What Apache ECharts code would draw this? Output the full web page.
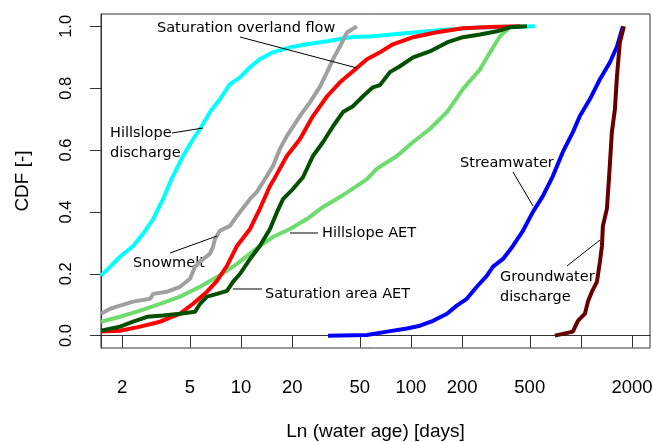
<!DOCTYPE html>
<html>
<head>
<meta charset="utf-8">
<script src="https://cdn.jsdelivr.net/npm/echarts@6/dist/echarts.min.js"></script>
<style>
  html, body { margin: 0; padding: 0; background: #fff; }
  #main { width: 653px; height: 442px; }
</style>
</head>
<body>
<div id="main"></div>
<script>
  // water age [days] / CDF pairs
  const ageHillslopeQ = [1.50, 1.70, 1.94, 2.32, 2.65, 3.04, 3.48, 3.93, 4.56, 5.22, 5.98, 6.57, 7.52, 8.61, 9.87, 11.3, 12.9, 15.4, 19.4, 24.4, 32.1, 43.8, 59.7, 103, 163, 255, 348, 536];
  const cdfHillslopeQ = [0.194, 0.223, 0.255, 0.290, 0.329, 0.377, 0.442, 0.510, 0.581, 0.635, 0.684, 0.723, 0.765, 0.813, 0.835, 0.868, 0.894, 0.916, 0.932, 0.942, 0.952, 0.965, 0.968, 0.980, 0.990, 0.996, 0.998, 1.0];

  const ageOverland = [1.50, 1.94, 2.55, 3.34, 4.38, 5.22, 6.31, 7.22, 8.27, 9.47, 11.3, 12.9, 14.8, 15.8, 18.6, 22.2, 26.5, 32.1, 38.2, 45.6, 55.1, 65.7, 78.3, 103, 142, 202, 292, 438];
  const cdfOverland = [0.013, 0.016, 0.029, 0.045, 0.071, 0.103, 0.142, 0.177, 0.226, 0.290, 0.345, 0.410, 0.484, 0.510, 0.581, 0.635, 0.710, 0.774, 0.819, 0.855, 0.894, 0.916, 0.942, 0.965, 0.981, 0.994, 0.998, 1.0];

  const ageSnowmelt = [1.50, 1.70, 1.94, 2.32, 2.92, 3.04, 3.67, 4.38, 5.01, 5.36, 5.74, 6.57, 6.84, 7.03, 7.52, 8.61, 9.47, 11.3, 12.4, 13.5, 15.4, 16.9, 18.6, 22.2, 25.5, 29.2, 32.1, 34.8, 38.2, 42.0, 48.1];
  const cdfSnowmelt = [0.071, 0.087, 0.097, 0.110, 0.119, 0.135, 0.142, 0.158, 0.184, 0.223, 0.239, 0.265, 0.287, 0.313, 0.339, 0.355, 0.387, 0.442, 0.465, 0.497, 0.548, 0.603, 0.645, 0.710, 0.755, 0.806, 0.852, 0.894, 0.935, 0.980, 1.0];

  const ageSatAET = [1.50, 1.94, 2.32, 2.80, 3.48, 4.38, 5.36, 5.74, 6.31, 7.22, 8.27, 8.97, 9.87, 11.3, 12.9, 14.8, 16.3, 17.7, 20.2, 23.2, 26.5, 30.4, 34.8, 39.8, 45.6, 52.2, 59.7, 65.7, 75.2, 86.1, 103, 129, 163, 202, 255, 321, 382, 481];
  const cdfSatAET = [0.016, 0.029, 0.045, 0.061, 0.065, 0.071, 0.077, 0.103, 0.126, 0.135, 0.145, 0.174, 0.200, 0.248, 0.290, 0.345, 0.400, 0.442, 0.474, 0.513, 0.581, 0.626, 0.677, 0.723, 0.742, 0.774, 0.803, 0.810, 0.852, 0.871, 0.900, 0.919, 0.948, 0.965, 0.974, 0.984, 0.997, 1.0];

  const ageHillslopeAET = [1.50, 1.94, 2.55, 3.34, 4.38, 5.74, 7.22, 8.27, 9.47, 11.3, 12.9, 15.4, 19.4, 24.4, 30.4, 38.2, 48.1, 55.1, 63.1, 82.7, 103, 129, 163, 202, 255, 292, 334, 382, 450];
  const cdfHillslopeAET = [0.045, 0.061, 0.081, 0.103, 0.126, 0.158, 0.190, 0.210, 0.232, 0.265, 0.290, 0.319, 0.345, 0.377, 0.416, 0.448, 0.484, 0.506, 0.540, 0.581, 0.626, 0.668, 0.723, 0.797, 0.861, 0.916, 0.968, 0.997, 1.0];

  const ageStream = [32.5, 55.1, 72.3, 94.7, 113, 135, 163, 186, 213, 244, 280, 304, 348, 398, 456, 522, 598, 684, 783, 897, 986, 1130, 1294, 1482, 1630, 1767];
  const cdfStream = [0.0, 0.002, 0.013, 0.023, 0.032, 0.048, 0.071, 0.097, 0.119, 0.158, 0.194, 0.223, 0.248, 0.290, 0.339, 0.400, 0.452, 0.516, 0.594, 0.658, 0.710, 0.765, 0.829, 0.884, 0.935, 1.0];

  const ageGroundwater = [703, 897, 960, 1056, 1100, 1161, 1242, 1294, 1330, 1347, 1422, 1462, 1521, 1585, 1630, 1695, 1790];
  const cdfGroundwater = [0.0, 0.013, 0.048, 0.071, 0.110, 0.142, 0.174, 0.239, 0.290, 0.355, 0.410, 0.506, 0.658, 0.732, 0.839, 0.948, 1.0];

  const xTickValues = [2, 5, 10, 20, 50, 100, 200, 500, 1000, 2000];
  const xLabelValues = [2, 5, 10, 20, 50, 100, 200, 500, 2000];
  const yTickValues = [0, 0.2, 0.4, 0.6, 0.8, 1.0];

  const zip = (xs, ys) => xs.map((x, i) => [x, ys[i]]);
  const curve = (name, color, ages, cdf) => ({
    name: name,
    type: 'line',
    data: zip(ages, cdf),
    symbol: 'none',
    silent: true,
    lineStyle: { color: color, width: 4 },
    itemStyle: { color: color }
  });

  const annFont = '14.5px "DejaVu Sans"';
  const label = (text, x, y) => ({
    type: 'text', x: x, y: y, silent: true,
    style: { text: text, fill: '#000', font: annFont, textAlign: 'left', textVerticalAlign: 'middle' }
  });
  const leader = (x1, y1, x2, y2) => ({
    type: 'line', silent: true, z: 100,
    shape: { x1: x1, y1: y1, x2: x2, y2: y2 },
    style: { stroke: '#000', lineWidth: 1 }
  });

  const chart = echarts.init(document.getElementById('main'));
  const option = {
    animation: false,
    backgroundColor: '#fff',
    grid: {
      left: 101, right: 3, top: 14, bottom: 94,
      show: true, borderColor: '#333', borderWidth: 1,
      containLabel: false, outerBoundsMode: 'none'
    },
    xAxis: {
      type: 'log',
      min: 1.5,
      max: 2550,
      name: 'Ln (water age) [days]',
      nameLocation: 'middle',
      nameGap: 74,
      nameTextStyle: { fontFamily: 'Liberation Sans', fontSize: 19, color: '#000' },
      axisLine: { show: true, lineStyle: { color: '#333' } },
      axisTick: { show: true, inside: false, length: 12, customValues: xTickValues, lineStyle: { color: '#333' } },
      axisLabel: {
        customValues: xLabelValues,
        margin: 30,
        fontFamily: 'Liberation Sans', fontSize: 18.5, color: '#000',
        formatter: v => String(v)
      },
      splitLine: { show: false },
      minorTick: { show: false }
    },
    yAxis: {
      type: 'value',
      min: -0.04,
      max: 1.04,
      name: 'CDF [-]',
      nameLocation: 'middle',
      nameGap: 69,
      nameTextStyle: { fontFamily: 'Liberation Sans', fontSize: 19, color: '#000' },
      axisLine: { show: true, lineStyle: { color: '#333' } },
      axisTick: { show: true, inside: false, length: 11, customValues: yTickValues, lineStyle: { color: '#333' } },
      axisLabel: {
        customValues: yTickValues,
        rotate: 90,
        margin: 26,
        fontFamily: 'Liberation Sans', fontSize: 16.5, color: '#000',
        formatter: v => v.toFixed(1)
      },
      splitLine: { show: false }
    },
    series: [
      curve('Hillslope discharge', '#00FFFF', ageHillslopeQ, cdfHillslopeQ),
      curve('Hillslope AET', '#6DDC6D', ageHillslopeAET, cdfHillslopeAET),
      curve('Saturation overland flow', '#FF0000', ageOverland, cdfOverland),
      curve('Snowmelt', '#A0A0A0', ageSnowmelt, cdfSnowmelt),
      curve('Saturation area AET', '#005000', ageSatAET, cdfSatAET),
      curve('Streamwater', '#0000FF', ageStream, cdfStream),
      curve('Groundwater discharge', '#660000', ageGroundwater, cdfGroundwater)
    ],
    graphic: [
      label('Saturation overland flow', 157, 28),
      leader(240, 37, 357, 68),
      label('Hillslope', 110, 133),
      label('discharge', 110, 153),
      leader(172, 133, 203, 128),
      label('Snowmelt', 133, 263),
      leader(170, 253, 217, 236),
      label('Hillslope AET', 322, 233),
      leader(290, 233, 318, 233),
      label('Saturation area AET', 265, 294),
      leader(233, 289, 262, 289),
      label('Streamwater', 460, 163),
      leader(513, 172, 533, 206),
      label('Groundwater', 500, 277),
      label('discharge', 500, 297),
      leader(567, 266, 600, 240)
    ]
  };
  chart.setOption(option);
</script>
</body>
</html>
